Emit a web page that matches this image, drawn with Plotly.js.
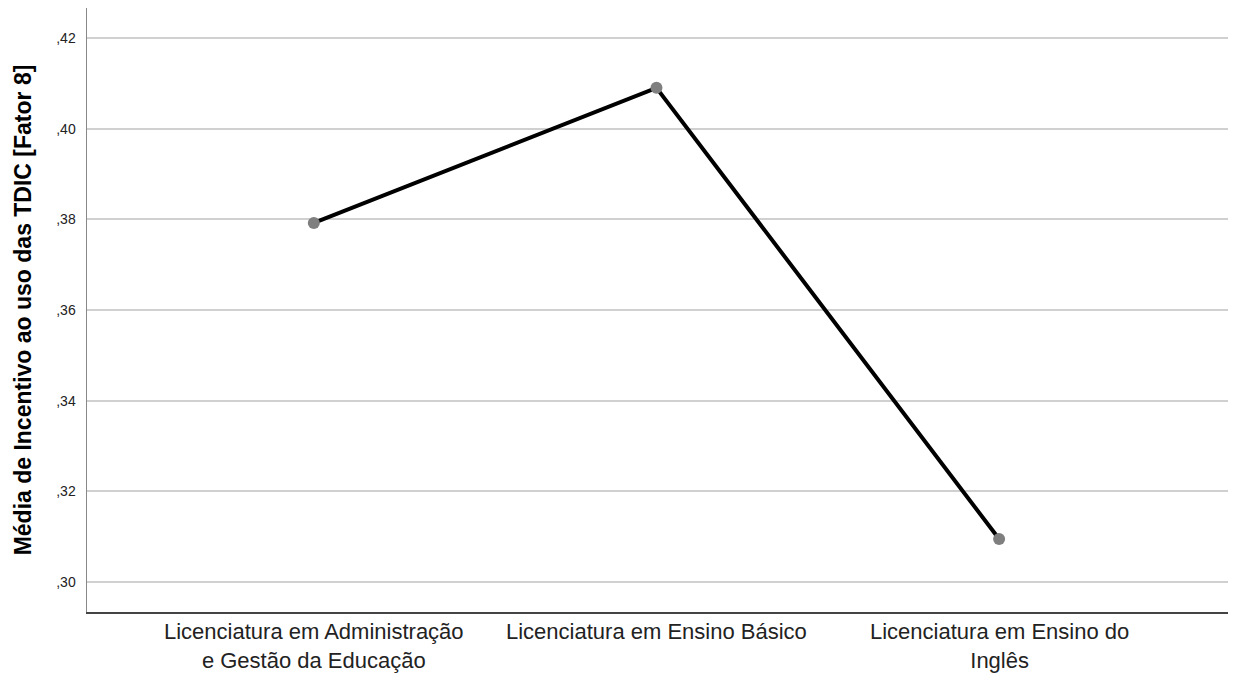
<!DOCTYPE html>
<html><head><meta charset="utf-8">
<script src="https://cdn.plot.ly/plotly-3.0.1.min.js"></script>
<style>body{margin:0;background:#fff}#c{width:1235px;height:677px}</style>
</head><body><div id="c"></div>
<script>
const categories = ["Licenciatura em Administração<br>e Gestão da Educação", "Licenciatura em Ensino Básico", "Licenciatura em Ensino do<br>Inglês"];
const means = [0.3792, 0.4090, 0.3095];
const tickVals = [0.30, 0.32, 0.34, 0.36, 0.38, 0.40, 0.42];
const tickText = [",30", ",32", ",34", ",36", ",38", ",40", ",42"];
const yTitle = "Média de Incentivo ao uso das TDIC [Fator 8]";
const xPos = categories.map((_, i) => i);
const FONT = "Liberation Sans, Arial, sans-serif";

const annotations = categories.map((c, i) => ({
  x: xPos[i], xref: "x", y: 0, yref: "paper", yanchor: "top", yshift: -5,
  text: c, showarrow: false, font: {size: 22, color: "#222", family: FONT}
}));

Plotly.newPlot("c", [{
  x: xPos, y: means, type: "scatter", mode: "lines+markers",
  line: {color: "#000", width: 4},
  marker: {color: "#7f7f7f", size: 12},
  hoverinfo: "skip"
}], {
  width: 1235, height: 677,
  margin: {l: 87, r: 7, t: 8, b: 65},
  paper_bgcolor: "#fff", plot_bgcolor: "#fff",
  showlegend: false,
  font: {family: FONT, color: "#222"},
  annotations: annotations,
  xaxis: {
    range: [-0.662, 2.668], tickvals: xPos, showticklabels: false,
    showgrid: false, zeroline: false, showline: true, linecolor: "#444", linewidth: 1.5,
    ticks: ""
  },
  yaxis: {
    range: [0.2934, 0.4266], tickvals: tickVals, ticktext: tickText,
    showgrid: true, gridcolor: "#d0d0d0", gridwidth: 2, zeroline: false,
    showline: true, linecolor: "#888", linewidth: 1.5, ticks: "",
    tickfont: {size: 14, color: "#222"}, ticklabelstandoff: 7,
    title: {text: yTitle, font: {size: 23, color: "#000", weight: "bold", family: FONT}, standoff: 18}
  }
}, {displayModeBar: false, staticPlot: true});
</script></body></html>
